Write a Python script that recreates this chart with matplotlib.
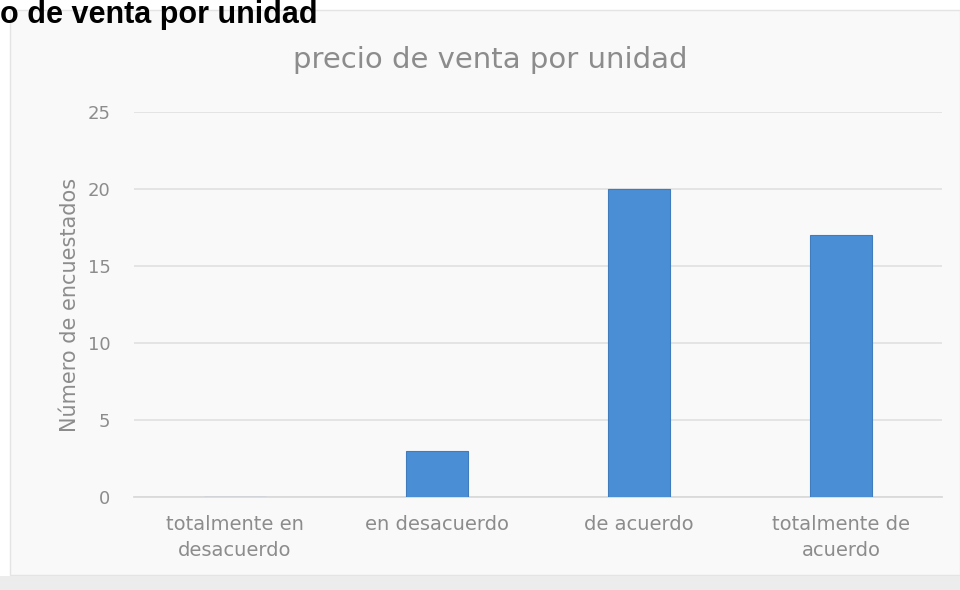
import matplotlib.pyplot as plt
from matplotlib.patches import Rectangle

plt.rcParams['font.family'] = ['DejaVu Sans']

# datos
categorias = ["totalmente en\ndesacuerdo", "en desacuerdo", "de acuerdo", "totalmente de\nacuerdo"]
valores = [0, 3, 20, 17]
ticks_y = [0, 5, 10, 15, 20, 25]

gris = '#8c8c8c'


def draw():
    fig = plt.figure(figsize=(9.6, 5.9), dpi=100)
    fig.patch.set_facecolor('white')

    # marco del grafico
    fig.patches.append(Rectangle((10 / 960, 15 / 590), 950 / 960, 565 / 590, transform=fig.transFigure,
                                 facecolor='#f9f9f9', edgecolor='#e4e4e4', lw=1, zorder=-2))
    fig.patches.append(Rectangle((0, 0), 1, 14 / 590, transform=fig.transFigure,
                                 facecolor='#ececec', edgecolor='none', zorder=-1))

    # encabezado recortado en la captura original
    fig.text(0.0, 1.0, "o de venta por unidad", ha='left', va='top',
             fontsize=22, weight='bold', color='black', family='Liberation Sans')

    ax = fig.add_axes([134 / 960, 93 / 590, 808 / 960, 385 / 590])
    ax.set_facecolor('none')
    x = range(len(categorias))
    ax.bar(x, valores, width=0.31, color='#4a8fd6', edgecolor='#3f7bbd', lw=0.8, zorder=3)

    ax.set_xlim(-0.5, len(categorias) - 0.5)
    ax.set_ylim(0, 25)
    ax.set_yticks(ticks_y)
    ax.set_xticks(list(x))
    ax.set_xticklabels(categorias, fontsize=14, color=gris, linespacing=1.45)
    ax.tick_params(axis='y', labelsize=13, labelcolor=gris, length=0, pad=17)
    ax.tick_params(axis='x', length=0, pad=13)
    ax.grid(axis='y', color='#e2e2e2', lw=1.3, zorder=0)
    for s in ['top', 'right', 'left']:
        ax.spines[s].set_visible(False)
    ax.spines['bottom'].set_color('#dadada')
    ax.spines['bottom'].set_linewidth(1.3)

    ax.set_ylabel("Número de encuestados", fontsize=15, color=gris, labelpad=5)
    fig.text(490 / 960, 1 - 60 / 590, "precio de venta por unidad", ha='center', va='center',
             fontsize=21, color=gris)

    fig.savefig('out.png', dpi=100)


if __name__ == '__main__':
    draw()
